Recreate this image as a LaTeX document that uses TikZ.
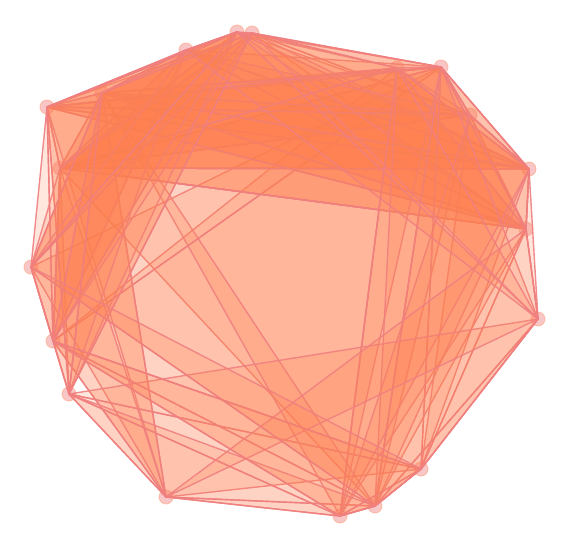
\documentclass[tikz,border=0pt]{standalone}
\definecolor{edgec}{RGB}{240,128,128}
\definecolor{fillc}{RGB}{255,127,80}
\definecolor{dotc}{RGB}{240,128,128}
\definecolor{dotl}{RGB}{255,160,122}
\tikzset{
  vtx/.style={circle, minimum size=14pt, inner sep=0pt, fill=dotc, fill opacity=0.45, draw=dotl, draw opacity=0.5, line width=1pt},
  tri/.style={fill=fillc, fill opacity=0.19, draw=edgec, draw opacity=0.9, line width=1.4pt, line join=round},
}
\newcommand{\tr}[3]{\filldraw[tri] (#1.center) -- (#2.center) -- (#3.center) -- cycle;}
\begin{document}
\begin{tikzpicture}[x=1pt,y=-1pt]
\useasboundingbox (0,0) rectangle (572,558);
\node[vtx] (A) at (237,32) {};
\node[vtx] (B) at (252,33) {};
\node[vtx] (C) at (186,50) {};
\node[vtx] (D) at (47,107) {};
\node[vtx] (E) at (102,93) {};
\node[vtx] (F) at (60,168) {};
\node[vtx] (G) at (31,267) {};
\node[vtx] (H) at (53,341) {};
\node[vtx] (I) at (69,394) {};
\node[vtx] (J) at (166,497) {};
\node[vtx] (K) at (340,516) {};
\node[vtx] (L) at (375,506) {};
\node[vtx] (M) at (421,469) {};
\node[vtx] (N) at (538,319) {};
\node[vtx] (O) at (526,229) {};
\node[vtx] (P) at (529,169) {};
\node[vtx] (Q) at (470,115) {};
\node[vtx] (R) at (441,67) {};
\node[vtx] (S) at (397,68) {};
% hull band
\tr{D}{G}{H}\tr{G}{H}{I}\tr{I}{J}{K}\tr{J}{K}{L}\tr{K}{L}{M}\tr{L}{M}{N}
\tr{M}{N}{O}\tr{N}{O}{P}\tr{O}{P}{Q}\tr{P}{Q}{R}\tr{Q}{R}{B}\tr{D}{C}{A}
\tr{I}{J}{M}\tr{H}{J}{L}
% center
\tr{F}{O}{L}\tr{H}{R}{M}\tr{H}{S}{K}\tr{G}{R}{L}\tr{E}{K}{L}\tr{F}{R}{H}
% top band
\tr{D}{R}{P}\tr{D}{Q}{O}\tr{E}{P}{O}\tr{F}{P}{R}\tr{F}{Q}{O}\tr{C}{P}{O}
\tr{A}{Q}{F}\tr{B}{O}{D}\tr{E}{R}{Q}\tr{F}{R}{O}\tr{D}{P}{F}\tr{C}{R}{F}
\tr{A}{P}{E}\tr{B}{Q}{F}\tr{E}{S}{O}\tr{D}{S}{P}\tr{F}{S}{Q}\tr{A}{R}{D}
\tr{B}{P}{F}\tr{C}{O}{E}\tr{A}{B}{S}\tr{C}{A}{P}\tr{D}{E}{Q}\tr{E}{F}{P}
\tr{F}{O}{E}\tr{F}{P}{S}\tr{D}{O}{R}\tr{E}{Q}{P}\tr{C}{Q}{D}\tr{A}{O}{F}
\tr{B}{R}{E}\tr{D}{S}{F}
% left-bottom
\tr{E}{J}{D}\tr{E}{J}{G}\tr{D}{I}{F}\tr{F}{J}{H}\tr{E}{I}{G}\tr{C}{H}{F}
\tr{B}{I}{G}\tr{A}{H}{F}\tr{H}{C}{E}\tr{I}{A}{D}\tr{I}{E}{C}\tr{G}{B}{F}
\tr{H}{D}{A}\tr{G}{C}{A}\tr{H}{E}{B}\tr{I}{B}{E}\tr{G}{E}{A}
% bottom-right
\tr{K}{R}{S}\tr{L}{Q}{R}\tr{M}{P}{Q}\tr{K}{S}{O}\tr{L}{S}{P}\tr{M}{R}{O}
\tr{K}{Q}{P}\tr{L}{R}{N}
% lower cross
\tr{I}{M}{N}\tr{H}{M}{L}\tr{J}{O}{N}\tr{I}{L}{K}\tr{H}{K}{M}\tr{G}{L}{M}
% right to top
\tr{N}{A}{C}\tr{N}{B}{S}
\end{tikzpicture}
\end{document}
